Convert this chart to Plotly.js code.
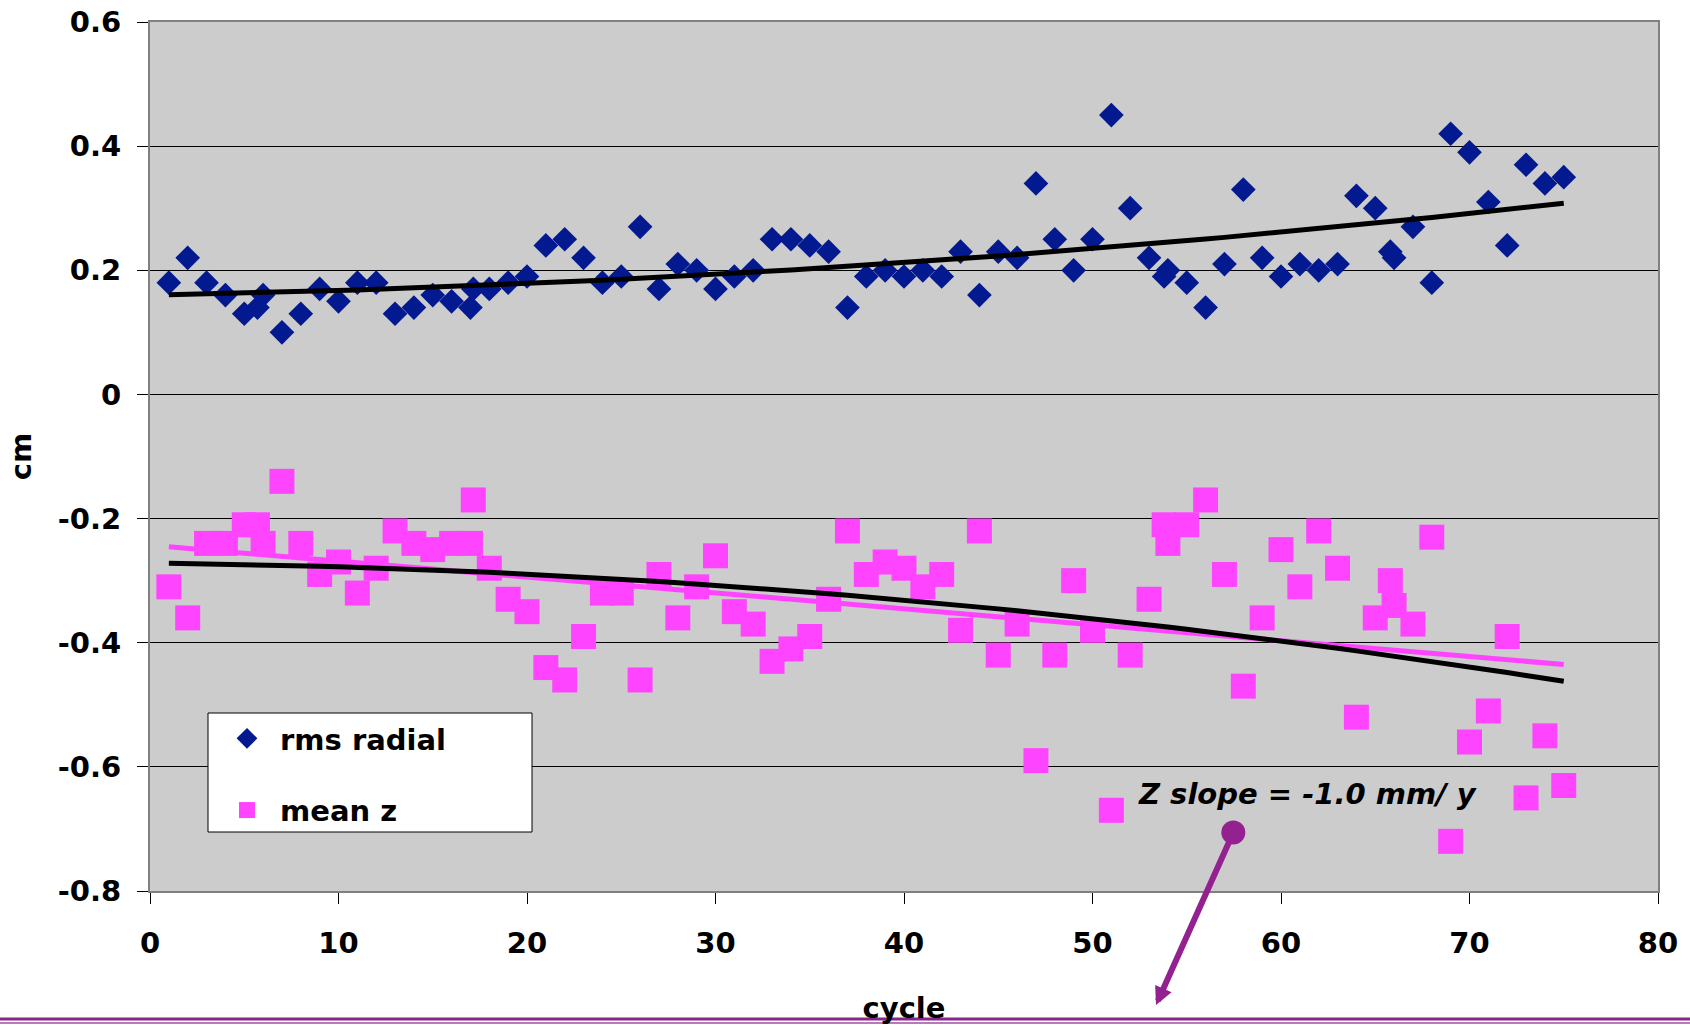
<!DOCTYPE html>
<html>
<head>
<meta charset="utf-8">
<script src="https://cdn.plot.ly/plotly-3.0.1.min.js"></script>
<style>
html,body{margin:0;padding:0;background:#ffffff;}
#chart{width:1690px;height:1025px;}
</style>
</head>
<body>
<div id="chart"></div>
<script>
// ---------------- data ----------------
const cycles = [1,2,3,4,5,5.7,6,7,8,9,10,11,12,13,14,15,16,17,17.15,18,19,20,
  21,22,23,24,25,26,27,28,29,30,31,32,33,34,35,36,37,38,39,40,
  41,42,43,44,45,46,47,48,49,50,51,52,53,53.8,54,55,56,57,58,59,60,
  61,62,63,64,65,65.8,66,67,68,69,70,71,72,73,74,75];

const rmsRadial = [0.18,0.22,0.18,0.16,0.13,0.14,0.16,0.10,0.13,0.17,0.15,0.18,0.18,0.13,0.14,0.16,0.15,0.14,0.17,0.17,0.18,0.19,
  0.24,0.25,0.22,0.18,0.19,0.27,0.17,0.21,0.20,0.17,0.19,0.20,0.25,0.25,0.24,0.23,0.14,0.19,0.20,0.19,
  0.20,0.19,0.23,0.16,0.23,0.22,0.34,0.25,0.20,0.25,0.45,0.30,0.22,0.19,0.20,0.18,0.14,0.21,0.33,0.22,0.19,
  0.21,0.20,0.21,0.32,0.30,0.23,0.22,0.27,0.18,0.42,0.39,0.31,0.24,0.37,0.34,0.35];

const meanZ = [-0.31,-0.36,-0.24,-0.24,-0.21,-0.21,-0.24,-0.14,-0.24,-0.29,-0.27,-0.32,-0.28,-0.22,-0.24,-0.25,-0.24,-0.24,-0.17,-0.28,-0.33,-0.35,
  -0.44,-0.46,-0.39,-0.32,-0.32,-0.46,-0.29,-0.36,-0.31,-0.26,-0.35,-0.37,-0.43,-0.41,-0.39,-0.33,-0.22,-0.29,-0.27,-0.28,
  -0.31,-0.29,-0.38,-0.22,-0.42,-0.37,-0.59,-0.42,-0.30,-0.38,-0.67,-0.42,-0.33,-0.21,-0.24,-0.21,-0.17,-0.29,-0.47,-0.36,-0.25,
  -0.31,-0.22,-0.28,-0.52,-0.36,-0.30,-0.34,-0.37,-0.23,-0.72,-0.56,-0.51,-0.39,-0.65,-0.55,-0.63];

const seriesNames = ['rms radial', 'mean z'];
const xTickVals = [0,10,20,30,40,50,60,70,80];
const yTickVals = [0.6,0.4,0.2,0,-0.2,-0.4,-0.6,-0.8];
const yTickText = ['0.6','0.4','0.2','0','-0.2','-0.4','-0.6','-0.8'];
const xTitle = 'cycle';
const yTitle = 'cm';
const slopeLabel = 'Z slope = -1.0 mm/ y';

// ---------------- least-squares trendlines (as the spreadsheet did) ----------------
function polyfit(xs, ys, deg) {
  const n = deg + 1;
  const A = [];
  for (let i = 0; i < n; i++) A.push(new Array(n + 1).fill(0));
  for (let k = 0; k < xs.length; k++) {
    for (let i = 0; i < n; i++) {
      for (let j = 0; j < n; j++) A[i][j] += Math.pow(xs[k], i + j);
      A[i][n] += ys[k] * Math.pow(xs[k], i);
    }
  }
  for (let i = 0; i < n; i++) {
    let p = i;
    for (let r = i + 1; r < n; r++) if (Math.abs(A[r][i]) > Math.abs(A[p][i])) p = r;
    const tmp = A[i]; A[i] = A[p]; A[p] = tmp;
    for (let r = 0; r < n; r++) {
      if (r === i) continue;
      const f = A[r][i] / A[i][i];
      for (let c = i; c <= n; c++) A[r][c] -= f * A[i][c];
    }
  }
  return A.map((row, i) => row[n] / row[i]);
}
function evalPoly(c, x) { let s = 0; for (let i = 0; i < c.length; i++) s += c[i] * Math.pow(x, i); return s; }

const fitRadial2 = polyfit(cycles, rmsRadial, 2);
const fitZ1 = polyfit(cycles, meanZ, 1);
const fitZ2 = polyfit(cycles, meanZ, 2);
const trendRadial = cycles.map(x => evalPoly(fitRadial2, x));
const trendZlin = cycles.map(x => evalPoly(fitZ1, x));
const trendZpoly = cycles.map(x => evalPoly(fitZ2, x));

// ---------------- styling ----------------
const FONT = 'DejaVu Sans, Verdana, sans-serif';
const BLUE = '#03198f';
const PINK = '#ff44ff';
const PURPLE = '#93218f';

// plot area in pixels: x 150..1658, y 22..891
const L = 150, R = 1658, T = 22, B = 891;
const px = v => (v - L) / (R - L);
const py = v => (B - v) / (B - T);

const traces = [
  { type:'scatter', mode:'markers', name:seriesNames[0], x:cycles, y:rmsRadial,
    legendgroup:'a', marker:{symbol:'diamond', size:19, color:BLUE, line:{width:0}} },
  { type:'scatter', mode:'markers', name:seriesNames[1], x:cycles, y:meanZ,
    legendgroup:'b', marker:{symbol:'square', size:25, color:PINK, line:{width:0}} },
  { type:'scatter', mode:'lines', x:cycles, y:trendZlin, showlegend:false, legendgroup:'b',
    line:{color:PINK, width:5} },
  { type:'scatter', mode:'lines', x:cycles, y:trendZpoly, showlegend:false, legendgroup:'b',
    line:{color:'#000000', width:5} },
  { type:'scatter', mode:'lines', x:cycles, y:trendRadial, showlegend:false, legendgroup:'a',
    line:{color:'#000000', width:5} }
];

const tickFont = {family:FONT, size:29, weight:'bold', color:'#000000'};

const layout = {
  width:1690, height:1025,
  paper_bgcolor:'#ffffff', plot_bgcolor:'#cccccc',
  margin:{l:L, r:1690-R, t:T, b:1025-B, pad:0},
  showlegend:true,
  legend:{
    x:px(214), xanchor:'left', y:py(713), yanchor:'top',
    bgcolor:'rgba(0,0,0,0)', borderwidth:0,
    font:{family:FONT, size:29, weight:'bold', color:'#000000'},
    itemwidth:56, tracegroupgap:31, traceorder:'grouped'
  },
  xaxis:{
    range:[0,80], tickvals:xTickVals, ticks:'outside', ticklen:11, tickwidth:1, tickcolor:'#000000',
    showline:true, mirror:true, linecolor:'#808080', linewidth:2,
    showgrid:false, zeroline:false, tickfont:tickFont, ticklabelstandoff:14,
    title:{text:xTitle, font:{family:FONT, size:29, weight:'bold', color:'#000000'}, standoff:39}
  },
  yaxis:{
    range:[-0.8,0.6], tickvals:yTickVals, ticktext:yTickText, ticks:'outside', ticklen:11, tickwidth:1, tickcolor:'#000000',
    showline:true, mirror:true, linecolor:'#808080', linewidth:2,
    showgrid:true, gridcolor:'#000000', gridwidth:1, zeroline:false,
    tickfont:tickFont, ticklabelstandoff:10,
    title:{text:yTitle, font:{family:FONT, size:29, weight:'bold', color:'#000000'}, standoff:18}
  },
  shapes:[
    { type:'rect', xref:'paper', yref:'paper', x0:px(208), x1:px(532), y0:py(832), y1:py(713),
      fillcolor:'#ffffff', line:{color:'#000000', width:1}, layer:'above' },
    { type:'line', xref:'paper', yref:'paper', x0:px(0), x1:px(1690), y0:py(1019), y1:py(1019),
      line:{color:'#86268a', width:3} },
    { type:'line', xref:'paper', yref:'paper', x0:px(0), x1:px(1690), y0:py(1023), y1:py(1023),
      line:{color:'#b77ab9', width:2} }
  ],
  annotations:[
    { xref:'x', yref:'y', x:61.4, y:-0.644, xanchor:'center', yanchor:'middle', showarrow:false,
      text:slopeLabel, font:{family:FONT, size:29, weight:'bold', style:'italic', color:'#000000'} },
    { xref:'paper', yref:'paper', x:px(1156), y:py(1005), ax:78, ay:-174, text:'',
      showarrow:true, arrowside:'end+start', arrowhead:2, arrowsize:0.6, startarrowhead:6, startarrowsize:1,
      arrowwidth:6, arrowcolor:PURPLE, standoff:0, startstandoff:0 }
  ]
};

Plotly.newPlot('chart', traces, layout, {displayModeBar:false, staticPlot:true});
</script>
</body>
</html>
